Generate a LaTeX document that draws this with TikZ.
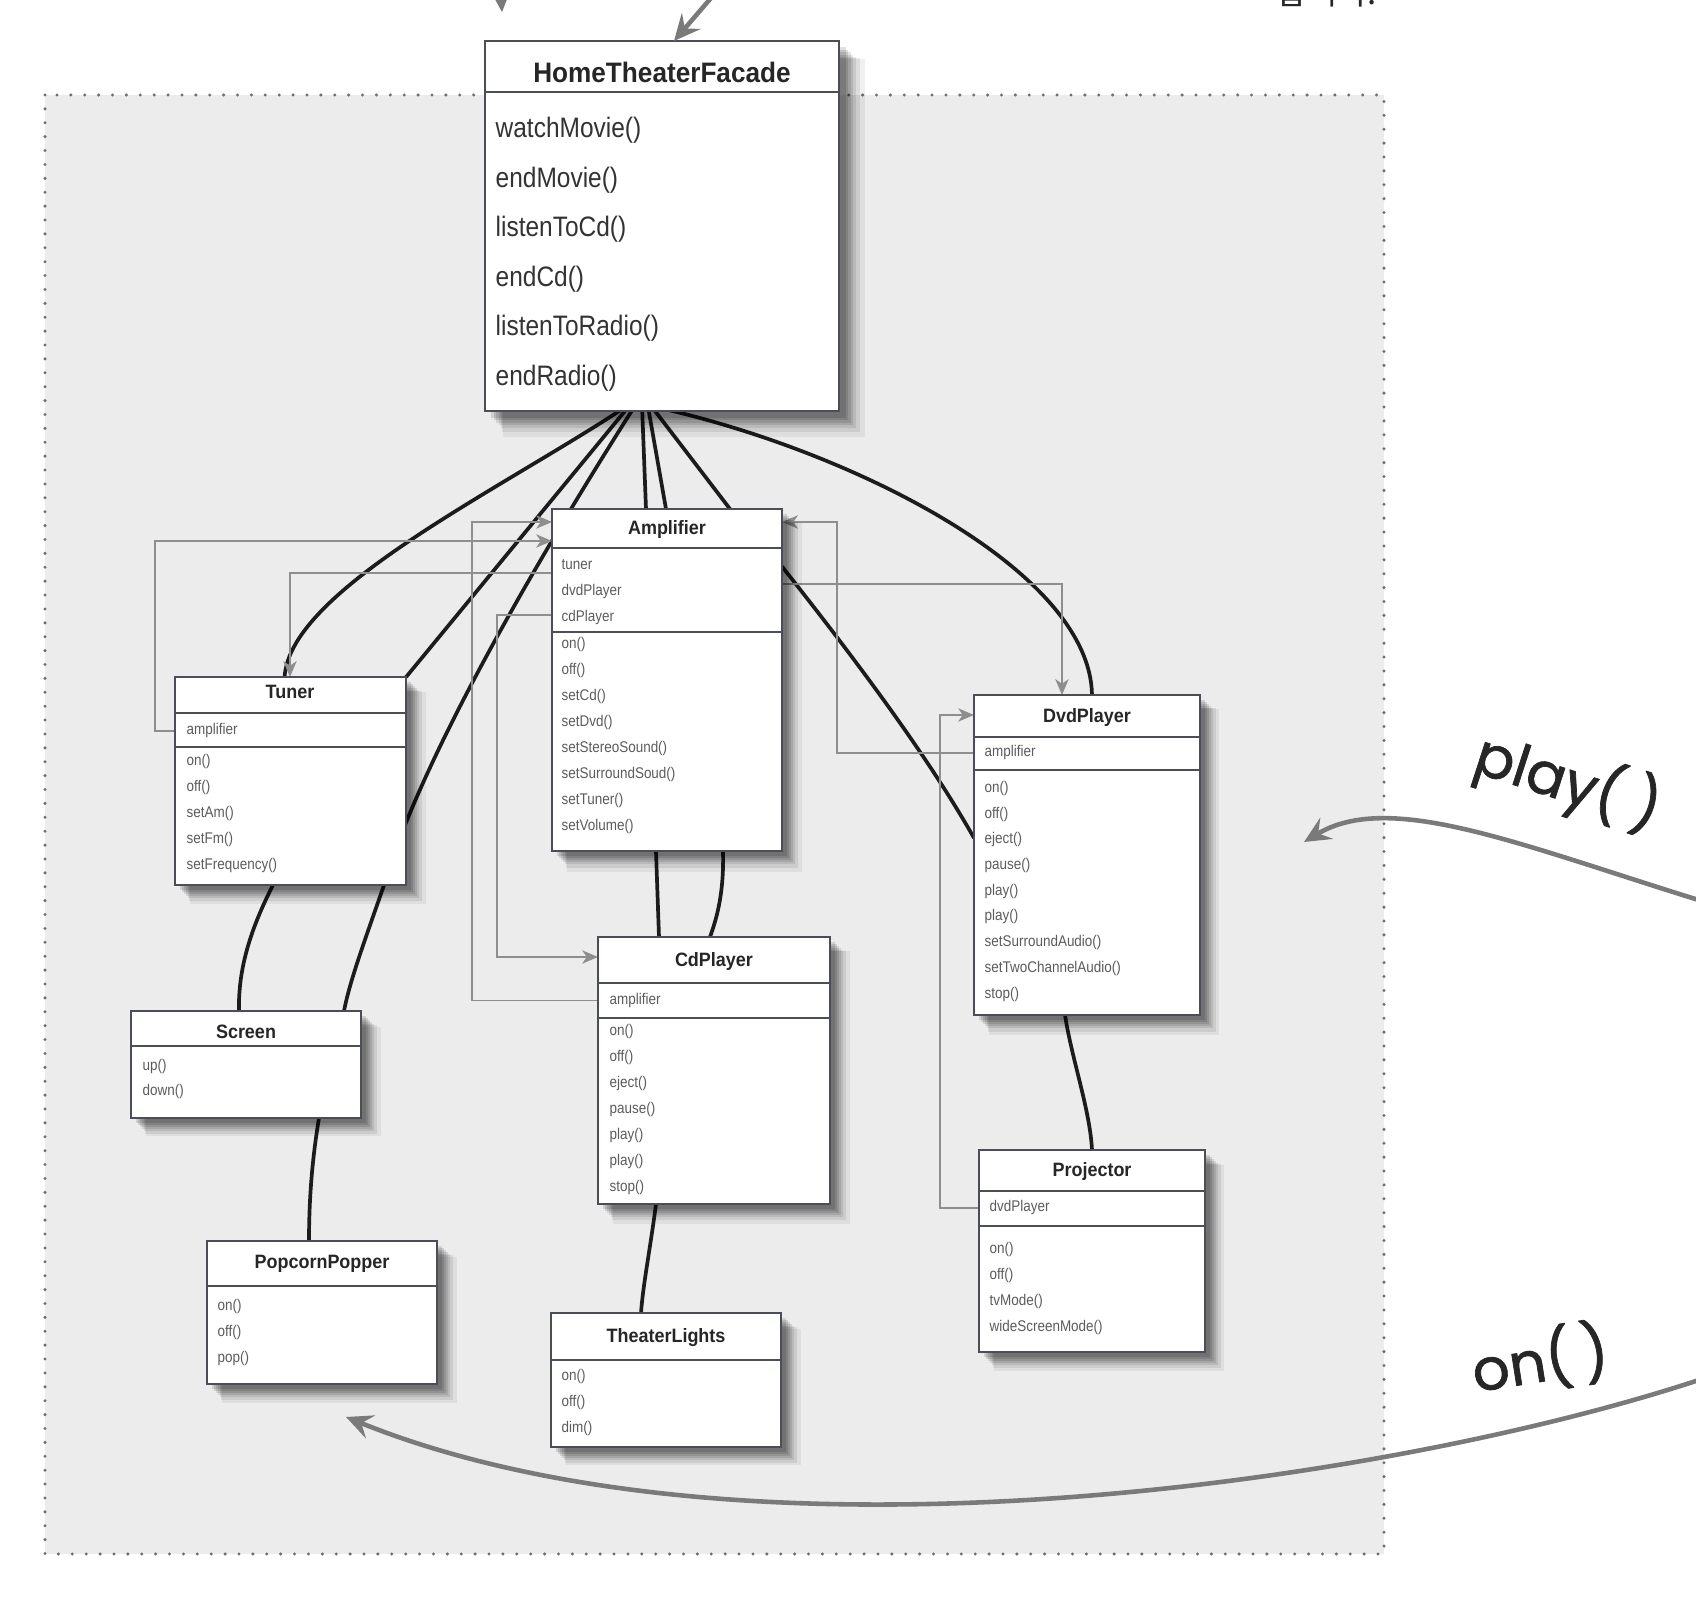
\documentclass[tikz,border=0pt]{standalone}
\usepackage{fontspec}
\usetikzlibrary{arrows.meta,calc,shadows}
\newfontfamily\umlfont[FakeStretch=0.87]{Liberation Sans}
\newfontfamily\umltitle[FakeStretch=0.93]{Liberation Sans}
\newfontfamily\handfont[FakeBold=1.2]{Poppins}
\newfontfamily\krfont{Noto Sans CJK KR}
\definecolor{boxline}{HTML}{4B4D57}
\definecolor{sepline}{HTML}{4B4D57}
\definecolor{regionbg}{HTML}{ECECED}
\definecolor{regiondot}{HTML}{6E6E6E}
\definecolor{conngrey}{HTML}{8E8E8E}
\definecolor{blackline}{HTML}{1C1C1C}
\definecolor{bigarrowcol}{HTML}{7A7A7A}
\definecolor{titletext}{HTML}{262626}
\definecolor{membertext}{HTML}{5C5C5C}
\definecolor{methtext}{HTML}{333333}
\pgfdeclarelayer{regionlayer}
\pgfdeclarelayer{linklayer}
\pgfsetlayers{regionlayer,linklayer,main}
\newcommand{\memberlist}[5]{\foreach \mtext [count=\mi] in {#5} {\node[mem] (#1-\mi) at ({#2},{#3+(\mi-1)*#4}) {\mtext};}}
\begin{document}
\begin{tikzpicture}[x=0.01cm,y=-0.01cm,
 softshadow/.style={
   general shadow={shadow xshift=#1*1.7pt, shadow yshift=-#1*1.7pt, shadow scale=1.02, fill=black, opacity=0.06},
   general shadow={shadow xshift=#1*1.5pt, shadow yshift=-#1*1.5pt, shadow scale=1.01, fill=black, opacity=0.08},
   general shadow={shadow xshift=#1*1.3pt, shadow yshift=-#1*1.3pt, fill=black, opacity=0.09},
   general shadow={shadow xshift=#1*1.1pt, shadow yshift=-#1*1.1pt, fill=black, opacity=0.10},
   general shadow={shadow xshift=#1*0.9pt, shadow yshift=-#1*0.9pt, fill=black, opacity=0.11},
   general shadow={shadow xshift=#1*0.7pt, shadow yshift=-#1*0.7pt, fill=black, opacity=0.12},
   general shadow={shadow xshift=#1*0.5pt, shadow yshift=-#1*0.5pt, fill=black, opacity=0.12}},
 umlbox/.style={draw=boxline, line width=0.55pt, fill=white, inner sep=0pt, outer sep=0pt, anchor=north west, softshadow=2.8},
 bigbox/.style={draw=boxline, line width=0.55pt, fill=white, inner sep=0pt, outer sep=0pt, anchor=north west, softshadow=3.6},
 sepl/.style={draw=sepline, line width=0.55pt},
 ttl/.style={font=\umltitle\bfseries\fontsize{5.5}{6.5}\selectfont, text=titletext, inner sep=0pt, anchor=base},
 bigttl/.style={font=\umltitle\bfseries\fontsize{8}{9.5}\selectfont, text=titletext, inner sep=0pt, anchor=base},
 mem/.style={font=\umlfont\fontsize{4.4}{5.2}\selectfont, text=membertext, inner sep=0pt, anchor=base west},
 meth/.style={font=\umlfont\fontsize{8}{9.5}\selectfont, text=methtext, inner sep=0pt, anchor=base west},
 gline/.style={draw=conngrey, line width=0.45pt, -{Stealth[length=4.5pt,width=3.8pt,inset=1.3pt]}},
 bline/.style={draw=blackline, line width=1.05pt, line cap=round},
 handarrow/.style={draw=bigarrowcol, line width=1.3pt, -{Stealth[length=7.5pt,width=7pt,inset=2.8pt]}},
 hand/.style={font=\handfont\fontsize{16.5}{20}\selectfont, text=black!85, inner sep=0pt},
]
\useasboundingbox (0,0) rectangle (1696,1604);
\begin{pgfonlayer}{regionlayer}
\fill[white] (0,0) rectangle (1696,1604);
\fill[regionbg] (45,95) rectangle (1384,1554);
\draw[regiondot, line width=0.95pt, line cap=round, dash pattern=on 0pt off 3.95pt] (45,95) rectangle (1384,1554);
\end{pgfonlayer}

% ---------- boxes ----------
\node[bigbox, minimum width=3.54cm, minimum height=3.70cm] (htf) at (485,41) {};
\node[umlbox, minimum width=2.30cm, minimum height=3.42cm] (amp) at (552,509) {};
\node[umlbox, minimum width=2.31cm, minimum height=2.08cm] (tuner) at (175,677) {};
\node[umlbox, minimum width=2.26cm, minimum height=3.20cm] (dvd) at (974,695) {};
\node[umlbox, minimum width=2.32cm, minimum height=2.67cm] (cd) at (598,937) {};
\node[umlbox, minimum width=2.30cm, minimum height=1.07cm] (screen) at (131,1011) {};
\node[umlbox, minimum width=2.26cm, minimum height=2.02cm] (proj) at (979,1150) {};
\node[umlbox, minimum width=2.30cm, minimum height=1.43cm] (pop) at (207,1241) {};
\node[umlbox, minimum width=2.30cm, minimum height=1.34cm] (lights) at (551,1313) {};

% separators
\draw[sepl] ($(htf.north west)+(0,51)$) -- ($(htf.north east)+(0,51)$);
\draw[sepl] ($(amp.north west)+(0,39)$) -- ($(amp.north east)+(0,39)$);
\draw[sepl] ($(amp.north west)+(0,123)$) -- ($(amp.north east)+(0,123)$);
\draw[sepl] ($(tuner.north west)+(0,36)$) -- ($(tuner.north east)+(0,36)$);
\draw[sepl] ($(tuner.north west)+(0,70)$) -- ($(tuner.north east)+(0,70)$);
\draw[sepl] ($(dvd.north west)+(0,42)$) -- ($(dvd.north east)+(0,42)$);
\draw[sepl] ($(dvd.north west)+(0,75)$) -- ($(dvd.north east)+(0,75)$);
\draw[sepl] ($(cd.north west)+(0,46)$) -- ($(cd.north east)+(0,46)$);
\draw[sepl] ($(cd.north west)+(0,81)$) -- ($(cd.north east)+(0,81)$);
\draw[sepl] ($(screen.north west)+(0,35)$) -- ($(screen.north east)+(0,35)$);
\draw[sepl] ($(proj.north west)+(0,41)$) -- ($(proj.north east)+(0,41)$);
\draw[sepl] ($(proj.north west)+(0,76)$) -- ($(proj.north east)+(0,76)$);
\draw[sepl] ($(pop.north west)+(0,45)$) -- ($(pop.north east)+(0,45)$);
\draw[sepl] ($(lights.north west)+(0,47)$) -- ($(lights.north east)+(0,47)$);

% titles
\node[bigttl] (htf-t) at (662,83) {HomeTheaterFacade};
\node[ttl] (amp-t) at (667,535) {Amplifier};
\node[ttl] (tuner-t) at (290,699) {Tuner};
\node[ttl] (dvd-t) at (1087,723) {DvdPlayer};
\node[ttl] (cd-t) at (714,967) {CdPlayer};
\node[ttl] (screen-t) at (246,1039) {Screen};
\node[ttl] (proj-t) at (1092,1177) {Projector};
\node[ttl] (pop-t) at (322,1269) {PopcornPopper};
\node[ttl] (lights-t) at (666,1343) {TheaterLights};

% members
\foreach \mtext [count=\mi] in {watchMovie(),endMovie(),listenToCd(),endCd(),listenToRadio(),endRadio()}
  {\node[meth] (htfm-\mi) at (495,{138+(\mi-1)*49.5}) {\mtext};}
\memberlist{ampa}{561}{570}{26}{tuner,dvdPlayer,cdPlayer}
\memberlist{ampm}{561}{649}{25.9}{on(),off(),setCd(),setDvd(),setStereoSound(),setSurroundSoud(),setTuner(),setVolume()}
\memberlist{tuna}{186}{735}{26}{amplifier}
\memberlist{tunm}{186}{766}{26}{on(),off(),setAm(),setFm(),setFrequency()}
\memberlist{dvda}{984}{757}{26}{amplifier}
\memberlist{dvdm}{984}{792.5}{25.7}{on(),off(),eject(),pause(),play(),play(),setSurroundAudio(),setTwoChannelAudio(),stop()}
\memberlist{cda}{609}{1004.5}{26}{amplifier}
\memberlist{cdm}{609}{1036}{26}{on(),off(),eject(),pause(),play(),play(),stop()}
\memberlist{scrm}{142}{1070.5}{25}{up(),down()}
\memberlist{proja}{989}{1212}{26}{dvdPlayer}
\memberlist{projm}{989}{1254}{25.8}{on(),off(),tvMode(),wideScreenMode()}
\memberlist{popm}{217}{1310.5}{26}{on(),off(),pop()}
\memberlist{lightm}{561}{1381}{26}{on(),off(),dim()}

% ---------- connectors (behind boxes) ----------
\coordinate (g1) at (155,541);
\coordinate (g2) at (290,573);
\coordinate (g3) at (472,522);
\coordinate (g4) at (497,615);
\coordinate (g4b) at (497,957);
\coordinate (g5) at (1062,584);
\coordinate (g6) at (837,522);
\coordinate (g7) at (940,715);
\begin{pgfonlayer}{linklayer}
% black association lines
\draw[bline] ($(htf.south)+(-37,-4)$) .. controls (500,490) and (290,590) .. ($(tuner.north)+(-6,0)$);
\draw[bline] ($(htf.south)+(-34,-4)$) -- (tuner.north east);
\draw[bline] ($(tuner.south west)+(98,0)$) .. controls (250,930) and (238,970) .. ($(screen.north west)+(108,0)$);
\draw[bline] ($(htf.south)+(-28,-4)$) .. controls (540,555) and (420,760) .. ($(tuner.south west)+(209,0)$)
   .. controls (365,940) and (350,980) .. ($(screen.north west)+(213,0)$) -- ($(screen.south west)+(188,0)$)
   .. controls (312,1160) and (309,1200) .. ($(pop.north west)+(102,0)$);
\draw[bline] ($(htf.south)+(-20,-4)$) -- ($(amp.north west)+(94,0)$) -- ($(amp.south west)+(104,0)$)
   -- ($(cd.north west)+(61,0)$) -- ($(cd.south west)+(58,0)$)
   .. controls (650,1250) and (643,1285) .. ($(lights.north west)+(90,0)$);
\draw[bline] ($(htf.south)+(-14,-4)$) -- ($(amp.north west)+(114,0)$) -- ($(amp.south west)+(171,0)$)
   .. controls (724,890) and (718,915) .. ($(cd.north west)+(112,0)$);
\draw[bline] ($(htf.south)+(-10,-4)$) -- ($(amp.north west)+(178,0)$) -- ($(amp.north east)+(1,59)$)
   .. controls (860,665) and (930,760) .. ($(dvd.north west)+(0,143)$);
\draw[bline] ($(htf.south)+(-6,-4)$) .. controls (850,450) and (1090,570) .. ($(dvd.north west)+(118,0)$)
   -- ($(dvd.south west)+(91,0)$) .. controls (1072,1060) and (1090,1110) .. ($(proj.north west)+(113,0)$);
% grey reference lines
\draw[gline] (tuner.west |- tuna-1) -| (g1) -- (amp.west |- g1);
\draw[gline] (amp.west |- g2) -| (tuner.north -| g2);
\draw[gline] (cd.west |- cda-1) -| (g3) -- (amp.west |- g3);
\draw[gline] (amp.west |- g4) -| (g4b) -- (cd.west |- g4b);
\draw[gline] (amp.east |- g5) -| (dvd.north -| g5);
\draw[gline] (dvd.west |- dvda-1) -| (g6) -- (amp.east |- g6);
\draw[gline] (proj.west |- proja-1) -| (g7) -- (dvd.west |- g7);
\end{pgfonlayer}

% ---------- hand-drawn arrows and labels ----------
\coordinate (topa1) at (498,-50);
\coordinate (topa1e) at (502,12);
\draw[handarrow] (topa1) -- (topa1e);
\coordinate (topa2) at (748,-45);
\draw[handarrow] (topa2) -- ($(htf.north west)+(189,0)$);
\coordinate (playstart) at (1705,902);
\coordinate (playend) at (1304,842);
\draw[handarrow] (playstart) .. controls (1520,845) and (1390,790) .. (playend);
\coordinate (onstart) at (1705,1378);
\coordinate (onend) at (346,1417);
\draw[handarrow] (onstart) .. controls (1400,1480) and (750,1580) .. (onend);
\node[hand, rotate=-18] (playlbl) at (1568,782) {play(\kern0.22em)};
\node[hand, rotate=9] (onlbl) at (1540,1360) {on(\kern0.18em)};
\node[font=\krfont\fontsize{9.4}{10}\selectfont, anchor=base west, inner sep=0pt, text=black!85] (krtext) at (1276,5) {합니다.};
\end{tikzpicture}
\end{document}
